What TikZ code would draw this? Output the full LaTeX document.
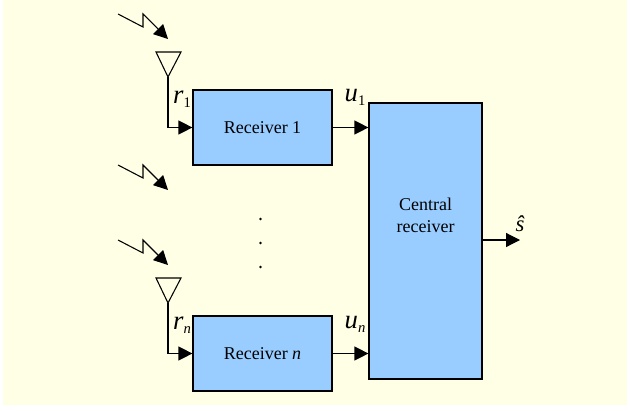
\documentclass[tikz,border=0pt]{standalone}
\usepackage{fontspec}
\setmainfont{Liberation Serif}
\usetikzlibrary{positioning,calc,arrows.meta}
\definecolor{pagebg}{RGB}{255,255,229}
\definecolor{boxblue}{RGB}{153,204,255}

\newcommand{\sigsub}[2]{#1\fontsize{11}{12}\selectfont\raisebox{-3pt}{#2}}

\begin{document}
\begin{tikzpicture}[
	x=0.75pt,y=-0.75pt,
	>={Triangle[length=10.5pt,width=10.5pt]},
	line join=miter,
	font=\fontsize{13.5}{16.5}\selectfont,
	block/.style={draw=black, fill=boxblue, line width=0.9pt, minimum width=104.25pt, minimum height=56.25pt, inner sep=0pt},
	link/.style={->, black, line width=0.9pt},
	bolt/.style={->, black, line width=0.8pt},
	antenna/.style={draw=black, line width=0.8pt},
	sig/.style={font=\fontsize{20}{22}\selectfont\itshape, inner sep=0pt}
	]
	%----- page
	\useasboundingbox (0,0) rectangle (630,410);
	\fill[white] (0,0) rectangle (630,410);
	\fill[pagebg] (3,0) rectangle (627,405);
	
	%----- blocks
	\node[block] (rxA) at (262.5,127.5) {Receiver 1};
	\node[block] (rxN) at (262.5,353.5) {Receiver \textit{n}};
	\node[block, minimum width=84.75pt, minimum height=207pt] (central) at (425.5,241) {};
	\node[align=center, inner sep=0pt] (centralTxt) at (425.5,215) {Central\\receiver};
	
	%----- antennas
	\coordinate (antA) at (168,77);
	\coordinate (antN) at (168,303);
	\draw[antenna] (antA) -- (156,52) -- (181,52) -- cycle;
	\draw[antenna] (antN) -- (156,278) -- (181,278) -- cycle;
	\draw[link] (antA) |- (rxA.west);
	\draw[link] (antN) |- (rxN.west);
	
	%----- incoming signals
	\foreach \yy in {14,165,240}{
		\draw[bolt] (118,\yy) -- (143,\yy+13) -- (143,\yy) -- (168,\yy+25);
	}
	
	%----- links to central
	\coordinate (outA) at (central.west |- rxA.east);
	\coordinate (outN) at (central.west |- rxN.east);
	\coordinate (shat) at (520,240);
	\draw[link] (rxA.east) -- (outA);
	\draw[link] (rxN.east) -- (outN);
	\draw[link] (central.east |- shat) -- (shat);
	
	%----- labels
	\node[sig] (rOne) at (182,99) {\sigsub{r}{\upshape 1}};
	\node[sig] (rEnn) at (182,325) {\sigsub{r}{n}};
	\node[sig] (uOne) at (355,97) {\sigsub{u}{\upshape 1}};
	\node[sig] (uEnn) at (355,324) {\sigsub{u}{n}};
	\node[sig, font=\fontsize{17}{20}\selectfont\itshape] (sHat) at (520,224) {ŝ};
	
	%----- dots
	\foreach \yy in {219,243,267}{
		\fill[black] (260.5,\yy) circle (1.1pt);
	}
\end{tikzpicture}
\end{document}
